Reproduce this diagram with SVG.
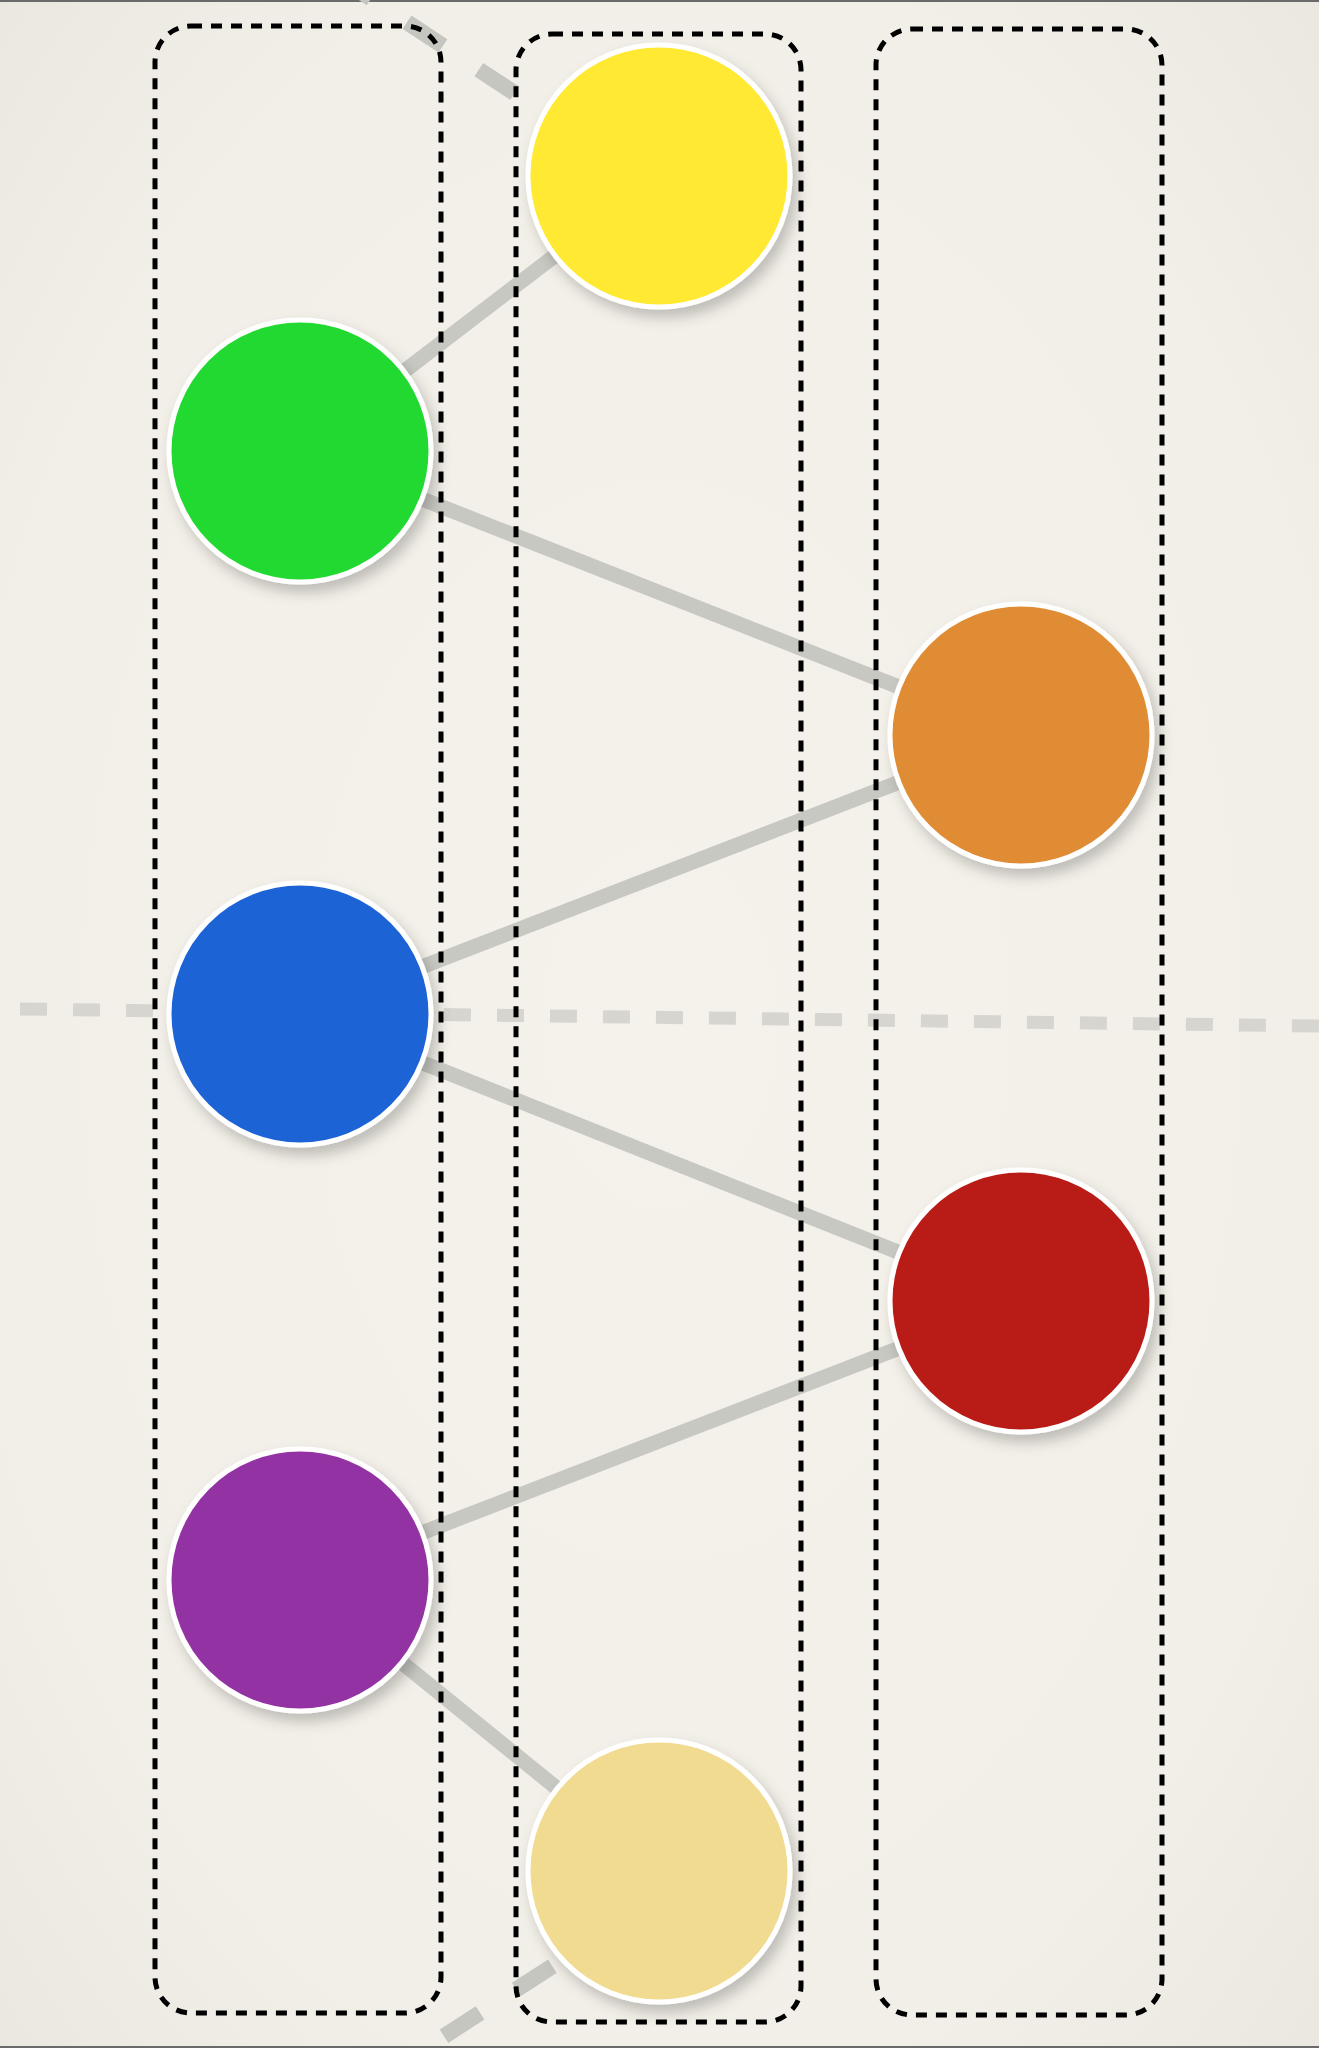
<svg xmlns="http://www.w3.org/2000/svg" width="1319" height="2048" viewBox="0 0 1319 2048">
  <defs>
    <radialGradient id="bg" cx="50%" cy="50%" r="75%">
      <stop offset="0" stop-color="#f5f2eb"/>
      <stop offset="0.7" stop-color="#f2efe8"/>
      <stop offset="1" stop-color="#e9e6df"/>
    </radialGradient>
    <filter id="shadow" x="-20%" y="-20%" width="150%" height="150%">
      <feDropShadow dx="5" dy="8" stdDeviation="7" flood-color="#000" flood-opacity="0.22"/>
    </filter>
    <style>
      .lane { fill: none; stroke: #000; stroke-width: 5; stroke-dasharray: 11 9; }
      .edge { fill: none; stroke: #c8c8c3; stroke-width: 15; }
      .edge-dash { fill: none; stroke: #c6c6c1; stroke-width: 16; stroke-dasharray: 43 43; }
      .divider { fill: none; stroke: #d6d5cf; stroke-width: 13; stroke-dasharray: 27 26; }
      .node { stroke: #ffffff; stroke-width: 5; filter: url(#shadow); }
    </style>
  </defs>

  <rect x="0" y="0" width="1319" height="2048" fill="url(#bg)"/>
  <rect x="0" y="0" width="1319" height="2" fill="#6a6a6a"/>
  <rect x="0" y="2046" width="1319" height="2" fill="#6a6a6a"/>

  <g id="connectors">
    <line class="divider" x1="20" y1="1009" x2="1319" y2="1026"/>
    <line class="edge-dash" x1="514.7" y1="93.3" x2="347.8" y2="-16.9"/>
    <line class="edge-dash" x1="552.4" y1="1966.3" x2="384.2" y2="2074.7"/>
    <line class="edge" x1="300" y1="451" x2="659" y2="176"/>
    <line class="edge" x1="300" y1="451" x2="1021" y2="735"/>
    <line class="edge" x1="300" y1="1014" x2="1021" y2="735"/>
    <line class="edge" x1="300" y1="1014" x2="1021" y2="1301"/>
    <line class="edge" x1="300" y1="1580" x2="1021" y2="1301"/>
    <line class="edge" x1="300" y1="1580" x2="659" y2="1871"/>
  </g>

  <g id="lanes">
    <rect id="lane-left" class="lane" x="155" y="26" width="286" height="1987" rx="36" ry="36"/>
    <rect id="lane-middle" class="lane" x="516" y="34" width="285" height="1988" rx="36" ry="36"/>
    <rect id="lane-right" class="lane" x="876" y="29" width="286" height="1986" rx="36" ry="36"/>
  </g>

  <g id="node-yellow"><circle class="node" cx="659" cy="176" r="131" fill="#ffe930"/></g>
  <g id="node-green"><circle class="node" cx="300" cy="451" r="131" fill="#21d930"/></g>
  <g id="node-orange"><circle class="node" cx="1021" cy="735" r="131" fill="#e08c35"/></g>
  <g id="node-blue"><circle class="node" cx="300" cy="1014" r="131" fill="#1e63d6"/></g>
  <g id="node-red"><circle class="node" cx="1021" cy="1301" r="131" fill="#b91e19"/></g>
  <g id="node-purple"><circle class="node" cx="300" cy="1580" r="131" fill="#9332a3"/></g>
  <g id="node-paleyellow"><circle class="node" cx="659" cy="1871" r="131" fill="#f1db90"/></g>
</svg>
